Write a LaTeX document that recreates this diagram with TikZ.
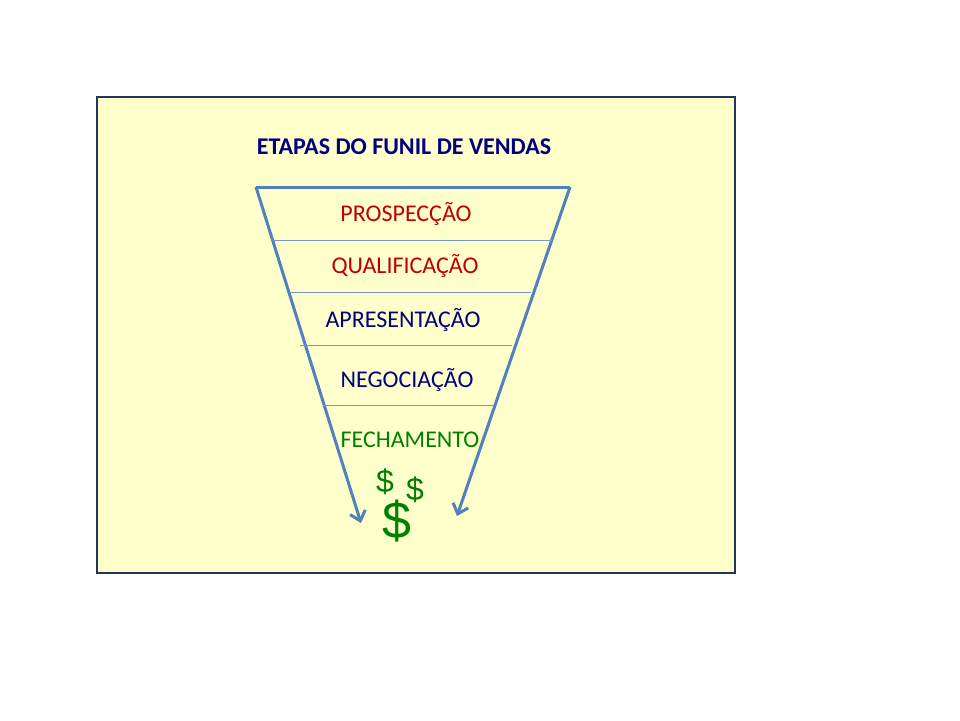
\documentclass[tikz,border=0pt]{standalone}
\usepackage{fontspec}
\setmainfont{Carlito}
\newfontfamily\dollarfont{Liberation Sans}
\usetikzlibrary{arrows.meta}

\definecolor{boxfill}{RGB}{255,255,204}
\definecolor{boxline}{RGB}{31,56,88}
\definecolor{funnelblue}{RGB}{79,129,189}
\definecolor{stepline}{RGB}{120,150,200}
\definecolor{titlenavy}{RGB}{0,0,128}
\definecolor{stepred}{RGB}{192,0,0}
\definecolor{stepgreen}{RGB}{0,128,0}

\begin{document}
\begin{tikzpicture}[x=1pt, y=-1pt]

\tikzset{stage/.style={font=\fontsize{24}{28}\selectfont, inner sep=0}}
\tikzset{funnelside/.style={draw=funnelblue, line width=3, -{Straight Barb[length=9, width=16, line width=3]}}}
\tikzset{divider/.style={draw=stepline, line width=1}}
\tikzset{money/.style={text=stepgreen, inner sep=0}}

\useasboundingbox (0,0) rectangle (960,720);
\draw[fill=boxfill, draw=boxline, line width=2] (97,97) rectangle (735,573);

\node[font=\bfseries\fontsize{24}{28}\selectfont, text=titlenavy] (title) at (404,147) {ETAPAS DO FUNIL DE VENDAS};

\coordinate (lt) at (256,187);
\coordinate (rt) at (570,187);
\coordinate (lb) at (361,523);
\coordinate (rb) at (457,516);
\draw[draw=funnelblue, line width=3] (lt) -- (rt);
\draw[funnelside] (lt) -- (lb);
\draw[funnelside] (rt) -- (rb);

\coordinate (d1l) at (273,240); \coordinate (d1r) at (552,240);
\coordinate (d2l) at (289,292); \coordinate (d2r) at (531,292);
\coordinate (d3l) at (300,345); \coordinate (d3r) at (512,345);
\coordinate (d4l) at (323,405); \coordinate (d4r) at (493,405);
\draw[divider] (d1l) -- (d1r);
\draw[divider] (d2l) -- (d2r);
\draw[divider] (d3l) -- (d3r);
\draw[divider] (d4l) -- (d4r);

\node[stage, text=stepred] (prosp) at (406,214) {PROSPECÇÃO};
\node[stage, text=stepred] (qualif) at (405,266) {QUALIFICAÇÃO};
\node[stage, text=titlenavy] (apres) at (403,320) {APRESENTAÇÃO};
\node[stage, text=titlenavy] (negoc) at (407,380) {NEGOCIAÇÃO};
\node[stage, text=stepgreen] (fecha) at (410,440) {FECHAMENTO};

\node[money, font=\dollarfont\fontsize{32}{32}\selectfont] (dollara) at (385,482) {\$};
\node[money, font=\dollarfont\fontsize{32}{32}\selectfont] (dollarb) at (415,490) {\$};
\node[money, font=\dollarfont\fontsize{52}{52}\selectfont] (dollarc) at (397,521) {\$};

\end{tikzpicture}
\end{document}
